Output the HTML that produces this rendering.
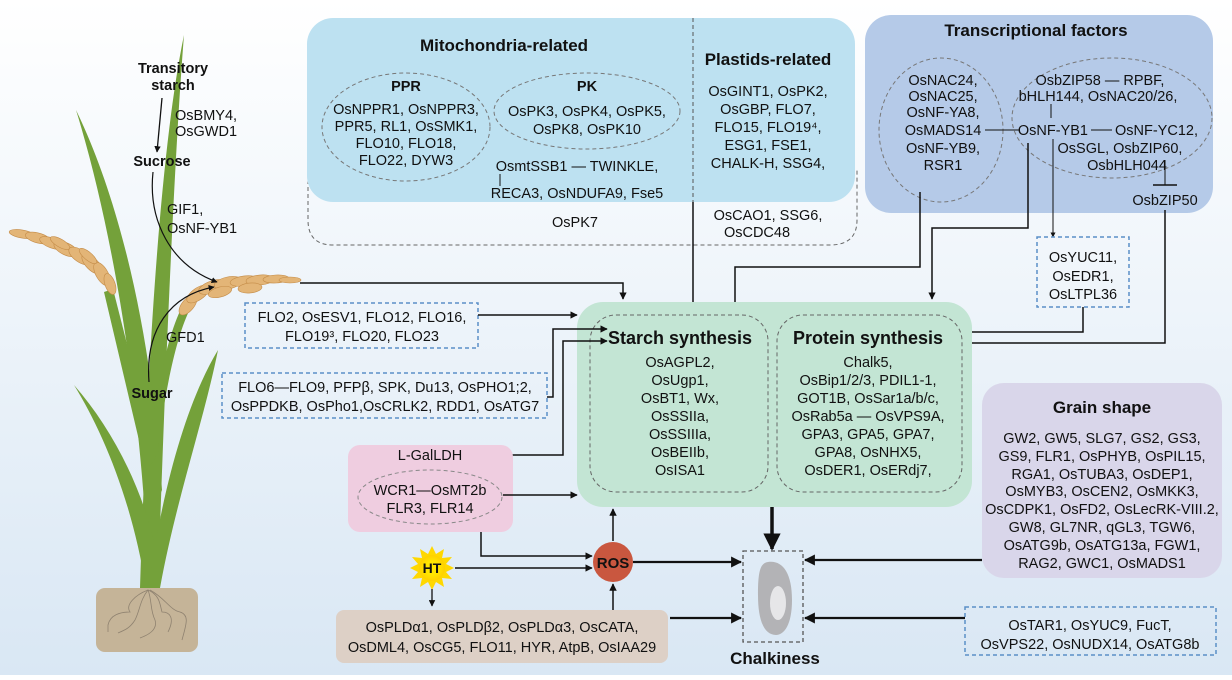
<!DOCTYPE html>
<html><head><meta charset="utf-8"><style>
html,body{margin:0;padding:0;}
body{width:1232px;height:675px;overflow:hidden;}
svg text{font-family:"Liberation Sans",Arial,sans-serif;font-size:14.5px;fill:#111;}
.b{font-weight:bold;}
</style></head><body>
<svg width="1232" height="675" viewBox="0 0 1232 675" xmlns="http://www.w3.org/2000/svg">
<defs>
<linearGradient id="bg" x1="0" y1="0" x2="0" y2="1"><stop offset="0" stop-color="#ffffff"/><stop offset="1" stop-color="#d9e7f4"/></linearGradient>
<marker id="a" viewBox="0 0 10 10" refX="9" refY="5" markerWidth="5" markerHeight="5" orient="auto"><path d="M0,0 L10,5 L0,10 z" fill="#111"/></marker>
<radialGradient id="sun"><stop offset="0.5" stop-color="#ffe600"/><stop offset="1" stop-color="#ffd000"/></radialGradient>
</defs>
<rect width="1232" height="675" fill="url(#bg)"/>

<!-- Plant -->
<g fill="#74a13a">
<path d="M140,588 C146,400 158,160 184,35 C174,160 164,400 158,588 Z"/>
<path d="M146,530 C136,370 110,220 76,110 C122,205 152,340 162,490 Z"/>
<path d="M146,588 C132,500 102,430 74,385 C115,432 146,495 158,560 Z"/>
<path d="M148,588 C164,480 188,400 218,350 C204,420 176,500 160,588 Z"/>
<path d="M146,470 L104,292 L113,289 L156,458 Z"/>
<path d="M148,445 C158,385 168,332 184,303 L191,307 C176,336 166,388 158,445 Z"/>
</g>
<g fill="#e3b577" stroke="#c48c48" stroke-width="0.6">
<ellipse cx="22" cy="234" rx="13" ry="4" transform="rotate(10 22 234)"/>
<ellipse cx="38" cy="238" rx="13" ry="5" transform="rotate(15 38 238)"/>
<ellipse cx="52" cy="243" rx="13" ry="5" transform="rotate(20 52 243)"/>
<ellipse cx="66" cy="249" rx="13" ry="6" transform="rotate(25 66 249)"/>
<ellipse cx="80" cy="256" rx="13" ry="6" transform="rotate(35 80 256)"/>
<ellipse cx="92" cy="264" rx="13" ry="6" transform="rotate(45 92 264)"/>
<ellipse cx="102" cy="274" rx="13" ry="6" transform="rotate(60 102 274)"/>
<ellipse cx="110" cy="284" rx="11" ry="5" transform="rotate(70 110 284)"/>
<ellipse cx="60" cy="243" rx="11" ry="4" transform="rotate(30 60 243)"/>
<ellipse cx="88" cy="256" rx="11" ry="4" transform="rotate(40 88 256)"/>
<ellipse cx="188" cy="305" rx="12" ry="6" transform="rotate(-50 188 305)"/>
<ellipse cx="198" cy="294" rx="13" ry="6" transform="rotate(-35 198 294)"/>
<ellipse cx="212" cy="287" rx="14" ry="6" transform="rotate(-20 212 287)"/>
<ellipse cx="228" cy="283" rx="14" ry="6" transform="rotate(-12 228 283)"/>
<ellipse cx="244" cy="281" rx="14" ry="5" transform="rotate(-8 244 281)"/>
<ellipse cx="260" cy="280" rx="14" ry="5" transform="rotate(-5 260 280)"/>
<ellipse cx="276" cy="279" rx="13" ry="4" transform="rotate(-3 276 279)"/>
<ellipse cx="290" cy="280" rx="11" ry="3"/>
<ellipse cx="220" cy="292" rx="12" ry="5" transform="rotate(-15 220 292)"/>
<ellipse cx="250" cy="288" rx="12" ry="5" transform="rotate(-5 250 288)"/>
</g>
<rect x="96" y="588" width="102" height="64" rx="9" fill="#c5b498"/>
<g fill="none" stroke="#8f8270" stroke-width="0.8">
<path d="M148,590 C135,595 125,605 130,612 C120,612 110,615 108,625 L108,632"/>
<path d="M148,590 C140,600 140,610 135,620 C130,628 125,630 118,633"/>
<path d="M148,590 C152,600 150,610 155,620 C158,630 148,635 140,638"/>
<path d="M148,590 C160,595 160,605 162,612 C170,612 175,618 168,632"/>
<path d="M150,590 C165,598 170,610 180,612 C190,615 186,625 182,640"/>
</g>
<text x="173" y="73" class="b" text-anchor="middle">Transitory</text>
<text x="173" y="90" class="b" text-anchor="middle">starch</text>
<line x1="162" y1="98" x2="157" y2="152" stroke="#111" stroke-width="1.3" marker-end="url(#a)"/>
<text x="175" y="120">OsBMY4,</text>
<text x="175" y="136">OsGWD1</text>
<text x="162" y="166" class="b" text-anchor="middle">Sucrose</text>
<text x="167" y="214">GIF1,</text>
<text x="167" y="233">OsNF-YB1</text>
<path d="M153,172 C148,220 170,265 217,282" fill="none" stroke="#111" stroke-width="1.2" marker-end="url(#a)"/>
<path d="M149,382 C145,330 170,295 214,287" fill="none" stroke="#111" stroke-width="1.2" marker-end="url(#a)"/>
<text x="166" y="342">GFD1</text>
<text x="152" y="398" class="b" text-anchor="middle">Sugar</text>

<!-- Mito/plastid -->
<path d="M308,180 L308,220 Q308,245 333,245 L830,245 Q857,245 857,220 L857,170" fill="none" stroke="#666" stroke-width="1" stroke-dasharray="4,3"/>
<rect x="307" y="18" width="548" height="184" rx="26" fill="#bde1f1"/>
<line x1="693" y1="18" x2="693" y2="202" stroke="#555" stroke-width="1" stroke-dasharray="4,3"/>
<line x1="693" y1="202" x2="693" y2="322" stroke="#111" stroke-width="1.5" marker-end="url(#a)"/>
<text x="504" y="51" class="b" text-anchor="middle" style="font-size:17px">Mitochondria-related</text>
<ellipse cx="406" cy="127" rx="84" ry="54" fill="none" stroke="#777" stroke-dasharray="4,3"/>
<ellipse cx="587" cy="111" rx="93" ry="38" fill="none" stroke="#777" stroke-dasharray="4,3"/>
<g text-anchor="middle">
<text x="406" y="91" class="b">PPR</text>
<text x="406" y="114">OsNPPR1, OsNPPR3,</text>
<text x="406" y="131">PPR5, RL1, OsSMK1,</text>
<text x="406" y="148">FLO10, FLO18,</text>
<text x="406" y="165">FLO22, DYW3</text>
<text x="587" y="91" class="b">PK</text>
<text x="587" y="116">OsPK3, OsPK4, OsPK5,</text>
<text x="587" y="134">OsPK8, OsPK10</text>
<text x="577" y="171">OsmtSSB1 — TWINKLE,</text>
<text x="577" y="198">RECA3, OsNDUFA9, Fse5</text>
<text x="575" y="227">OsPK7</text>
<text x="768" y="65" class="b" style="font-size:17px">Plastids-related</text>
<text x="768" y="96">OsGINT1, OsPK2,</text>
<text x="768" y="114">OsGBP, FLO7,</text>
<text x="768" y="132">FLO15, FLO19⁴,</text>
<text x="768" y="150">ESG1, FSE1,</text>
<text x="768" y="168">CHALK-H, SSG4,</text>
<text x="768" y="220">OsCAO1, SSG6,</text>
<text x="757" y="237">OsCDC48</text>
</g>
<line x1="500" y1="174" x2="500" y2="186" stroke="#111"/>

<!-- Transcription -->
<rect x="865" y="15" width="348" height="198" rx="26" fill="#b5cae8"/>
<text x="1036" y="36" class="b" text-anchor="middle" style="font-size:17px">Transcriptional factors</text>
<ellipse cx="941" cy="130" rx="62" ry="72" fill="none" stroke="#777" stroke-dasharray="4,3"/>
<ellipse cx="1112" cy="118" rx="100" ry="60" fill="none" stroke="#777" stroke-dasharray="4,3"/>
<g text-anchor="middle">
<text x="943" y="85">OsNAC24,</text>
<text x="943" y="101">OsNAC25,</text>
<text x="943" y="117">OsNF-YA8,</text>
<text x="943" y="135">OsMADS14</text>
<text x="943" y="153">OsNF-YB9,</text>
<text x="943" y="170">RSR1</text>
<text x="1100" y="85">OsbZIP58 — RPBF,</text>
<text x="1098" y="101">bHLH144, OsNAC20/26,</text>
<text x="1120" y="153">OsSGL, OsbZIP60,</text>
<text x="1127" y="170">OsbHLH044</text>
<text x="1165" y="205">OsbZIP50</text>
</g>
<text x="1088" y="135" text-anchor="end">OsNF-YB1</text>
<text x="1115" y="135">OsNF-YC12,</text>
<line x1="1091" y1="130" x2="1112" y2="130" stroke="#111"/>
<line x1="985" y1="130" x2="1020" y2="130" stroke="#111"/>
<line x1="1051" y1="104" x2="1051" y2="118" stroke="#111"/>
<line x1="1165" y1="160" x2="1165" y2="185" stroke="#111"/>
<line x1="1153" y1="185" x2="1177" y2="185" stroke="#111" stroke-width="1.5"/>
<line x1="1053" y1="139" x2="1053" y2="237" stroke="#111" marker-end="url(#a)"/>
<polyline points="920,192 920,267 735,267 735,322" fill="none" stroke="#111" stroke-width="1.5" marker-end="url(#a)"/>
<polyline points="1028,143 1028,228 932,228 932,299" fill="none" stroke="#111" stroke-width="1.5" marker-end="url(#a)"/>
<rect x="1037" y="237" width="92" height="70" fill="none" stroke="#5b8fc7" stroke-width="1.5" stroke-dasharray="4,3"/>
<g text-anchor="middle"><text x="1083" y="262">OsYUC11,</text><text x="1083" y="281">OsEDR1,</text><text x="1083" y="299">OsLTPL36</text></g>
<polyline points="1083,307 1083,332 950,332" fill="none" stroke="#111" stroke-width="1.5" marker-end="url(#a)"/>
<polyline points="1165,210 1165,343 950,343" fill="none" stroke="#111" stroke-width="1.5" marker-end="url(#a)"/>

<polyline points="300,283 623,283 623,299" fill="none" stroke="#111" stroke-width="1.5" marker-end="url(#a)"/>

<!-- Green -->
<rect x="577" y="302" width="395" height="205" rx="26" fill="#c3e5d4"/>
<rect x="590" y="315" width="178" height="177" rx="26" fill="none" stroke="#666" stroke-dasharray="4,3"/>
<rect x="777" y="315" width="185" height="177" rx="26" fill="none" stroke="#666" stroke-dasharray="4,3"/>
<g text-anchor="middle">
<text x="680" y="344" class="b" style="font-size:18px">Starch synthesis</text>
<text x="680" y="367">OsAGPL2,</text>
<text x="680" y="385">OsUgp1,</text>
<text x="680" y="403">OsBT1, Wx,</text>
<text x="680" y="421">OsSSIIa,</text>
<text x="680" y="439">OsSSIIIa,</text>
<text x="680" y="457">OsBEIIb,</text>
<text x="680" y="475">OsISA1</text>
<text x="868" y="344" class="b" style="font-size:18px">Protein synthesis</text>
<text x="868" y="367">Chalk5,</text>
<text x="868" y="385">OsBip1/2/3, PDIL1-1,</text>
<text x="868" y="403">GOT1B, OsSar1a/b/c,</text>
<text x="868" y="421">OsRab5a — OsVPS9A,</text>
<text x="868" y="439">GPA3, GPA5, GPA7,</text>
<text x="868" y="457">GPA8, OsNHX5,</text>
<text x="868" y="475">OsDER1, OsERdj7,</text>
</g>

<!-- FLO boxes -->
<rect x="245" y="303" width="233" height="45" fill="none" stroke="#5b8fc7" stroke-width="1.5" stroke-dasharray="4,3"/>
<g text-anchor="middle"><text x="362" y="322">FLO2, OsESV1, FLO12, FLO16,</text><text x="362" y="341">FLO19³, FLO20, FLO23</text></g>
<line x1="478" y1="315" x2="577" y2="315" stroke="#111" stroke-width="1.5" marker-end="url(#a)"/>
<rect x="222" y="373" width="325" height="45" fill="none" stroke="#5b8fc7" stroke-width="1.5" stroke-dasharray="4,3"/>
<g text-anchor="middle"><text x="385" y="392">FLO6—FLO9, PFPβ, SPK, Du13, OsPHO1;2,</text><text x="385" y="411">OsPPDKB, OsPho1,OsCRLK2, RDD1, OsATG7</text></g>
<polyline points="547,397 553,397 553,329 607,329" fill="none" stroke="#111" stroke-width="1.5" marker-end="url(#a)"/>
<polyline points="465,455 563,455 563,341 607,341" fill="none" stroke="#111" stroke-width="1.5" marker-end="url(#a)"/>

<!-- Pink -->
<rect x="348" y="445" width="165" height="87" rx="12" fill="#efcde0"/>
<text x="430" y="460" text-anchor="middle">L-GalLDH</text>
<ellipse cx="430" cy="497" rx="72" ry="27" fill="none" stroke="#888" stroke-dasharray="4,3"/>
<g text-anchor="middle"><text x="430" y="495">WCR1—OsMT2b</text><text x="430" y="513">FLR3, FLR14</text></g>
<line x1="503" y1="495" x2="577" y2="495" stroke="#111" stroke-width="1.5" marker-end="url(#a)"/>
<polyline points="481,532 481,556 592,556" fill="none" stroke="#111" stroke-width="1.5" marker-end="url(#a)"/>

<!-- HT -->
<polygon points="432,546 436,554 444,549 442,558 452,557 446,564 454,568 446,572 452,579 442,578 444,587 436,582 432,590 428,582 420,587 422,578 412,579 418,572 410,568 418,564 412,557 422,558 420,549 428,554" fill="#ffd800"/>
<circle cx="432" cy="568" r="13" fill="url(#sun)"/>
<text x="432" y="573" class="b" text-anchor="middle" style="font-size:14px">HT</text>
<line x1="455" y1="568" x2="592" y2="568" stroke="#111" stroke-width="1.5" marker-end="url(#a)"/>
<line x1="432" y1="589" x2="432" y2="606" stroke="#111" stroke-width="1.3" marker-end="url(#a)"/>
<rect x="336" y="610" width="332" height="53" rx="8" fill="#ddd0c6"/>
<g text-anchor="middle"><text x="502" y="632">OsPLDα1, OsPLDβ2, OsPLDα3, OsCATA,</text><text x="502" y="652">OsDML4, OsCG5, FLO11, HYR, AtpB, OsIAA29</text></g>

<!-- ROS -->
<circle cx="613" cy="562" r="20" fill="#c9573f"/>
<text x="613" y="568" class="b" text-anchor="middle" style="font-size:15px">ROS</text>
<line x1="613" y1="541" x2="613" y2="509" stroke="#111" stroke-width="1.5" marker-end="url(#a)"/>
<line x1="613" y1="610" x2="613" y2="584" stroke="#111" stroke-width="1.5" marker-end="url(#a)"/>
<line x1="633" y1="562" x2="741" y2="562" stroke="#111" stroke-width="2.2" marker-end="url(#a)"/>
<line x1="670" y1="618" x2="741" y2="618" stroke="#111" stroke-width="2.2" marker-end="url(#a)"/>

<!-- Chalk -->
<line x1="772" y1="507" x2="772" y2="549" stroke="#111" stroke-width="3.5" marker-end="url(#a)"/>
<rect x="743" y="551" width="60" height="91" fill="none" stroke="#555" stroke-width="1.3" stroke-dasharray="4,3"/>
<path d="M768,562 C782,560 792,572 792,600 C792,625 784,635 776,635 C764,635 758,620 758,595 C758,572 760,563 768,562 Z" fill="#b3b3b6"/>
<ellipse cx="778" cy="603" rx="8" ry="17" fill="#e6e6e8"/>
<text x="775" y="664" class="b" text-anchor="middle" style="font-size:17px">Chalkiness</text>

<!-- Grain shape -->
<rect x="982" y="383" width="240" height="195" rx="22" fill="#d9d6ea"/>
<g text-anchor="middle">
<text x="1102" y="413" class="b" style="font-size:17px">Grain shape</text>
<text x="1102" y="443">GW2, GW5, SLG7,  GS2, GS3,</text>
<text x="1102" y="461">GS9, FLR1, OsPHYB, OsPIL15,</text>
<text x="1102" y="479">RGA1, OsTUBA3, OsDEP1,</text>
<text x="1102" y="496">OsMYB3, OsCEN2, OsMKK3,</text>
<text x="1102" y="514">OsCDPK1, OsFD2, OsLecRK-VIII.2,</text>
<text x="1102" y="532">GW8, GL7NR, qGL3, TGW6,</text>
<text x="1102" y="550">OsATG9b, OsATG13a, FGW1,</text>
<text x="1102" y="568">RAG2, GWC1, OsMADS1</text>
</g>
<line x1="982" y1="560" x2="805" y2="560" stroke="#111" stroke-width="2.2" marker-end="url(#a)"/>
<rect x="965" y="607" width="251" height="48" fill="none" stroke="#5b8fc7" stroke-width="1.5" stroke-dasharray="4,3"/>
<g text-anchor="middle"><text x="1090" y="630">OsTAR1, OsYUC9, FucT,</text><text x="1090" y="649">OsVPS22, OsNUDX14, OsATG8b</text></g>
<line x1="965" y1="618" x2="805" y2="618" stroke="#111" stroke-width="2.2" marker-end="url(#a)"/>
</svg>
</body></html>
